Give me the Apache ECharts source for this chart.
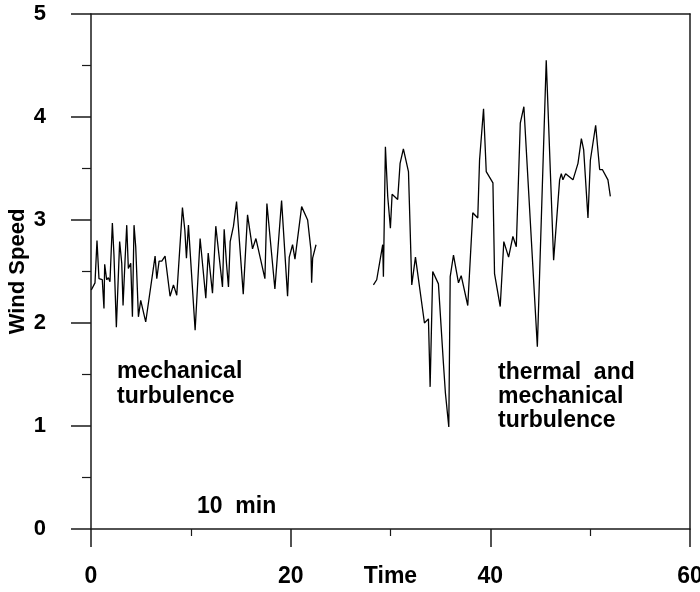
<!DOCTYPE html>
<html>
<head>
<meta charset="utf-8">
<script src="https://cdn.jsdelivr.net/npm/echarts@6/dist/echarts.min.js"></script>
<style>
  html, body { margin: 0; padding: 0; background: #fff; }
  #chart { width: 700px; height: 592px; }
</style>
</head>
<body>
<div id="chart"></div>
<script>
// Wind speed record, first stretch: mechanical turbulence only
const timeMech = [0.03, 0.4, 0.6, 0.8, 1.13, 1.3, 1.37, 1.57, 1.74, 1.9, 2.14, 2.3, 2.54, 2.87, 3.08, 3.21,
  3.41, 3.58, 3.74, 3.98, 4.15, 4.31, 4.48, 4.75, 4.98, 5.48, 6.42, 6.59, 6.82, 7.09, 7.42, 7.92, 8.26,
  8.59, 9.16, 9.4, 9.56, 9.76, 10.43, 10.93, 11.5, 11.74, 12.17, 12.5, 13.17, 13.34, 13.57, 13.77, 13.94,
  14.27, 14.58, 15.25, 15.68, 16.18, 16.52, 17.42, 17.62, 18.42, 19.09, 19.69, 19.86, 20.19, 20.43, 21.1,
  21.7, 22.03, 22.1, 22.2, 22.54];
const speedMech = [2.32, 2.39, 2.80, 2.43, 2.42, 2.14, 2.57, 2.42, 2.44, 2.40, 2.97, 2.66, 1.96, 2.79, 2.58, 2.17,
  2.61, 2.95, 2.53, 2.58, 2.06, 2.95, 2.74, 2.06, 2.22, 2.01, 2.65, 2.43, 2.60, 2.60, 2.65, 2.26, 2.37,
  2.27, 3.12, 2.90, 2.63, 2.95, 1.93, 2.82, 2.24, 2.68, 2.29, 2.94, 2.35, 2.91, 2.58, 2.35, 2.79,
  2.94, 3.18, 2.28, 3.05, 2.72, 2.82, 2.43, 3.16, 2.33, 3.19, 2.26, 2.64, 2.76, 2.62, 3.13,
  3.00, 2.71, 2.39, 2.63, 2.76];

// Second stretch: thermal and mechanical turbulence
const timeMixed = [28.29, 28.62, 29.22, 29.29, 29.49, 29.72, 29.99, 30.16, 30.72, 30.96, 31.29, 31.8, 32.13,
  32.5, 33.4, 33.8, 33.97, 34.23, 34.8, 35.3, 35.5, 35.84, 35.98, 36.31, 36.81, 37.08, 37.74, 38.24,
  38.74, 38.92, 39.32, 39.59, 40.26, 40.42, 40.99, 41.35, 41.83, 42.26, 42.6, 43.0, 43.36, 44.71,
  45.6, 46.34, 46.94, 47.11, 47.27, 47.54, 48.28, 48.78, 49.12, 49.35, 49.78, 50.02, 50.55, 50.95,
  51.22, 51.78, 52.02];
const speedMixed = [2.37, 2.42, 2.76, 2.45, 3.71, 3.23, 2.92, 3.25, 3.20, 3.55, 3.69, 3.47, 2.37,
  2.64, 2.00, 2.04, 1.38, 2.50, 2.38, 1.61, 1.32, 0.99, 2.45, 2.66, 2.39, 2.46, 2.17, 3.07,
  3.02, 3.58, 4.08, 3.47, 3.36, 2.48, 2.16, 2.79, 2.64, 2.84, 2.74, 3.94, 4.10, 1.77,
  4.55, 2.61, 3.39, 3.45, 3.39, 3.45, 3.39, 3.55, 3.79, 3.68, 3.02, 3.58, 3.92, 3.49,
  3.49, 3.39, 3.23];

const xTickLabels = [0, 20, 40, 60];
const yTickLabels = [0, 1, 2, 3, 4, 5];

const ink = '#1a1a1a';
const font = 'Liberation Sans, Arial, sans-serif';

const pairs = (t, v) => t.map((x, i) => [x, v[i]]);

const chart = echarts.init(document.getElementById('chart'), null, { renderer: 'canvas' });

chart.setOption({
  animation: false,
  backgroundColor: '#fff',
  grid: { left: 91, right: 10, top: 14, bottom: 63, containLabel: false, outerBoundsMode: 'none' },
  xAxis: [{
    type: 'value',
    min: xTickLabels[0],
    max: xTickLabels[xTickLabels.length - 1],
    interval: 20,
    name: 'Time',
    nameLocation: 'middle',
    nameGap: 36,
    nameMoveOverlap: false,
    nameTextStyle: { fontFamily: font, fontWeight: 'bold', fontSize: 23, color: '#000', padding: [0, 0, 0, 0] },
    axisLine: { show: true, onZero: false, lineStyle: { color: ink, width: 1.5 } },
    axisTick: { show: true, length: 18, lineStyle: { color: ink, width: 1.5 } },
    minorTick: { show: true, splitNumber: 2, length: 7, lineStyle: { color: ink, width: 1.2 } },
    splitLine: { show: false },
    axisLabel: {
      margin: 36, fontFamily: font, fontWeight: 'bold', fontSize: 23, color: '#000',
      formatter: v => (xTickLabels.includes(v) ? String(v) : '')
    }
  }, {
    type: 'value', position: 'top', min: 0, max: 60,
    axisLine: { show: true, onZero: false, lineStyle: { color: ink, width: 1.5 } },
    axisTick: { show: false }, axisLabel: { show: false }, splitLine: { show: false }
  }],
  yAxis: [{
    type: 'value',
    min: yTickLabels[0],
    max: yTickLabels[yTickLabels.length - 1],
    interval: 1,
    name: 'Wind Speed',
    nameLocation: 'middle',
    nameGap: 62,
    nameMoveOverlap: false,
    nameTextStyle: { fontFamily: font, fontWeight: 'bold', fontSize: 22, color: '#000' },
    axisLine: { show: true, onZero: false, lineStyle: { color: ink, width: 1.5 } },
    axisTick: { show: true, length: 20, lineStyle: { color: ink, width: 1.5 } },
    minorTick: { show: true, splitNumber: 2, length: 9, lineStyle: { color: ink, width: 1.2 } },
    splitLine: { show: false },
    axisLabel: { margin: 45, fontFamily: font, fontWeight: 'bold', fontSize: 22, color: '#000' }
  }, {
    type: 'value', position: 'right', min: 0, max: 5,
    axisLine: { show: true, onZero: false, lineStyle: { color: ink, width: 1.5 } },
    axisTick: { show: false }, axisLabel: { show: false }, splitLine: { show: false }
  }],
  series: [{
    type: 'line',
    data: pairs(timeMech, speedMech),
    symbol: 'none',
    lineStyle: { color: '#000', width: 1.3 }
  }, {
    type: 'line',
    data: pairs(timeMixed, speedMixed),
    symbol: 'none',
    lineStyle: { color: '#000', width: 1.3 }
  }],
  graphic: [{
    type: 'text', left: 117, top: 359,
    style: { text: 'mechanical\nturbulence', font: 'bold 23px ' + font, lineHeight: 25, fill: '#000' }
  }, {
    type: 'text', left: 498, top: 361,
    style: { text: 'thermal  and\nmechanical\nturbulence', font: 'bold 23px ' + font, lineHeight: 24, fill: '#000' }
  }, {
    type: 'text', left: 197, top: 495,
    style: { text: '10  min', font: 'bold 23px ' + font, fill: '#000' }
  }]
});
</script>
</body>
</html>
